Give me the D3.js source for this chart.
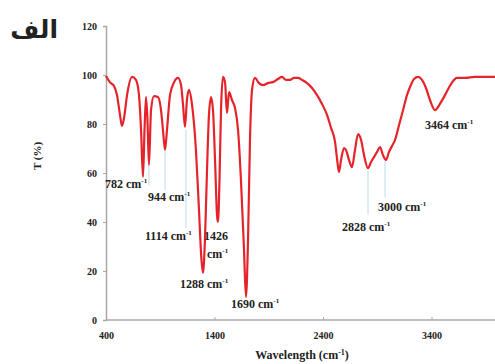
<!DOCTYPE html>
<html>
<head>
<meta charset="utf-8">
<script src="https://cdn.jsdelivr.net/npm/d3@7"></script>
<style>
  body { margin: 0; background: #fff; }
  svg text { font-family: "Liberation Serif", "Times New Roman", serif; font-weight: bold; fill: #222; }
</style>
</head>
<body>
<div id="chart"></div>
<script>
// Spectrum, wavenumber (cm-1) and transmittance (%)
const wavenumbers = [400, 437, 474, 501, 529, 547, 566, 594, 640, 676, 704, 723, 741, 755, 769, 782, 796, 815, 842, 879,
  907, 925, 944, 962, 990, 1027, 1064, 1091, 1110, 1128, 1146, 1165, 1193, 1229, 1257, 1280, 1294, 1312, 1331, 1349,
  1368, 1386, 1405, 1423, 1432, 1446, 1460, 1478, 1497, 1515, 1534, 1561, 1589, 1617, 1644, 1672, 1690, 1709, 1727, 1746,
  1773, 1810, 1847, 1893, 1939, 1985, 2022, 2059, 2096, 2133, 2170, 2206, 2253, 2299, 2345, 2391, 2437, 2474, 2511, 2529,
  2547, 2566, 2594, 2612, 2640, 2667, 2695, 2723, 2751, 2778, 2815, 2843, 2870, 2898, 2925, 2953, 2981, 3008, 3036, 3064,
  3101, 3138, 3174, 3202, 3239, 3276, 3312, 3349, 3386, 3432, 3478, 3524, 3580, 3635, 3709, 3801, 3893, 4000];
const transmittance = [99.6, 97, 95.5, 91.8, 83.7, 79.2, 82.4, 91.8, 99.2, 98, 91.8, 77.6, 58.4, 77.6, 91, 81.6, 63.3, 85.7, 91.4, 91,
  85.7, 77.6, 69.4, 77.6, 91.8, 97, 98.8, 96, 87.8, 78.8, 89.8, 93.9, 87.8, 69.4, 44.9, 24.5, 19.2, 32.7, 61.2, 83.7,
  91, 85.7, 65.3, 42.9, 40, 57, 85.7, 99.2, 97, 84.5, 93, 89.8, 86.5, 77.6, 57, 28.6, 9.4, 32.7, 73.5, 93.9,
  98.8, 96.7, 95.9, 96.7, 97.1, 98.4, 99.2, 98, 98, 98.8, 98.8, 98, 96.7, 94.7, 91.8, 88.2, 83.7, 78.4, 72.7, 66,
  60.4, 65.3, 70.2, 69.4, 65.3, 62.4, 69.4, 75.9, 73.5, 67.3, 62, 64.5, 66.5, 68.6, 70.6, 67.3, 65.3, 68.6, 71, 73.5,
  79.6, 85.7, 91.8, 95.1, 98.4, 99.2, 98, 94.7, 89.8, 85.7, 88.2, 91.8, 96.3, 98.8, 98.8, 99.2, 99.2, 99.2];

const xTicks = [400, 1400, 2400, 3400];
const yTicks = [0, 20, 40, 60, 80, 100, 120];

// Peak labels
const peakLabels = ['782', '944', '1114', '1426', '1288', '1690', '2828', '3000', '3464'];
// Leader lines: wavenumber, top T, bottom T
const leaderX = [796, 944, 1137, 2815, 2972];
const leaderTop = [63, 69, 77.6, 61, 65];
const leaderBottom = [55, 53, 37.5, 43, 50];

const W = 495, H = 364;
const svg = d3.select('#chart').append('svg')
  .attr('width', W).attr('height', H);

const x = d3.scaleLinear().domain([400, 4000]).range([106, 496.6]);
const y = d3.scaleLinear().domain([0, 120]).range([320, 26]);

// axes
const yAxis = svg.append('g')
  .attr('transform', 'translate(106,0)')
  .call(d3.axisLeft(y).tickValues(yTicks).tickSize(3).tickPadding(6));
const xAxis = svg.append('g')
  .attr('transform', 'translate(0,320)')
  .call(d3.axisBottom(x).tickValues(xTicks).tickFormat(d3.format('d')).tickSize(-3).tickPadding(12));
[xAxis, yAxis].forEach(g => {
  g.select('.domain').attr('stroke', '#a8a8a8').attr('stroke-width', 1.5);
  g.selectAll('.tick line').attr('stroke', '#a8a8a8');
  g.selectAll('.tick text').style('font-size', '10px').attr('fill', '#333');
});
xAxis.select('.domain').attr('d', 'M106,0H495');

// leader lines
svg.append('g').selectAll('line')
  .data(leaderX)
  .join('line')
  .attr('x1', d => x(d)).attr('x2', d => x(d))
  .attr('y1', (d, i) => y(leaderTop[i]))
  .attr('y2', (d, i) => y(leaderBottom[i]))
  .attr('stroke', '#b9dcee').attr('stroke-width', 1);

// spectrum
const line = d3.line()
  .x(d => x(d[0]))
  .y(d => y(d[1]))
  .curve(d3.curveMonotoneX);
svg.append('path')
  .datum(wavenumbers.map((w, i) => [w, transmittance[i]]))
  .attr('d', line)
  .attr('fill', 'none')
  .attr('stroke', '#e5232a')
  .attr('stroke-width', 2.2)
  .attr('stroke-linejoin', 'round');

// peak labels (pixel positions of each text)
const labelPos = [[105, 188], [148, 201], [145, 240], [204, 240], [180, 288], [231, 308], [342, 231], [378, 211], [425, 129]];
const cmText = (sel) => {
  sel.append('tspan').text(' cm');
  sel.append('tspan').attr('dy', -5).style('font-size', '7px').text('-1');
};
peakLabels.forEach((p, i) => {
  const t = svg.append('text')
    .attr('x', labelPos[i][0]).attr('y', labelPos[i][1])
    .style('font-size', '12px');
  t.append('tspan').text(p);
  if (p === '1426') {
    const t2 = svg.append('text')
      .attr('x', labelPos[i][0] + 3).attr('y', labelPos[i][1] + 18)
      .style('font-size', '12px');
    t2.append('tspan').text('cm');
    t2.append('tspan').attr('dy', -5).style('font-size', '7px').text('-1');
  } else {
    cmText(t);
  }
});

// axis titles
svg.append('text')
  .attr('transform', 'translate(41,156) rotate(-90)')
  .attr('text-anchor', 'middle')
  .style('font-size', '11px')
  .text('T (%)');
const xt = svg.append('text')
  .attr('x', 302).attr('y', 359)
  .attr('text-anchor', 'middle')
  .style('font-size', '12px');
xt.append('tspan').text('Wavelength (cm');
xt.append('tspan').attr('dy', -4).style('font-size', '8px').text('-1');
xt.append('tspan').attr('dy', 4).text(')');

// panel letter
svg.append('text')
  .attr('x', 58).attr('y', 38)
  .attr('text-anchor', 'end')
  .style('font-family', '"DejaVu Sans", sans-serif')
  .style('font-size', '25px')
  .attr('fill', '#111')
  .text('الف');
</script>
</body>
</html>
